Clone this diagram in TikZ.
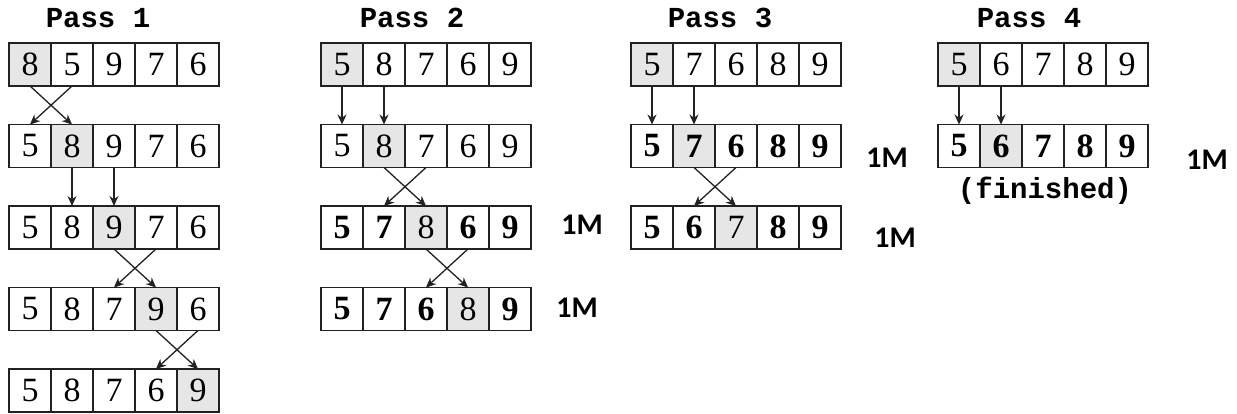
\documentclass[tikz,border=0pt]{standalone}
\usepackage{fontspec}
\setmainfont{Liberation Serif}
\newfontfamily\monofont{Liberation Mono}
\newfontfamily\calfont{Carlito}
\usetikzlibrary{arrows.meta}
\definecolor{shade}{HTML}{E6E6E6}
\definecolor{boxline}{HTML}{222222}
\tikzset{
  cell/.style={draw=boxline, line width=1.4pt, minimum width=42pt, minimum height=43pt,
    inner sep=0pt, outer sep=0pt, anchor=north west, font=\fontsize{34}{34}\selectfont},
  passtitle/.style={font=\monofont\bfseries\fontsize{29}{29}\selectfont},
  onem/.style={font=\calfont\bfseries\fontsize{30}{30}\selectfont},
  arr/.style={-{Stealth[length=10pt,width=9pt]}, line width=1.3pt, draw=boxline}
}
% #1 name, #2 left x, #3 top y (pixels down), #4 digits, #5 highlighted index
\newcommand\cellrow[5]{%
  \foreach \v [count=\i] in {#4} {%
    \pgfmathtruncatemacro\ishl{\i==#5}%
    \ifnum\ishl=1 \def\cf{shade}\else\def\cf{white}\fi
    \node[cell, fill=\cf] (#1-\i) at ({#2+(\i-1)*42}, {-#3}) {\v};
  }%
}
\newcommand\swaparr[4]{% from row #1 to row #2, cells #3 and #4
  \draw[arr] (#1-#3.south) -- (#2-#4.north);
  \draw[arr] (#1-#4.south) -- (#2-#3.north);
}
\newcommand\downarr[3]{% from row #1 to row #2, cell #3
  \draw[arr] (#1-#3.south) -- (#2-#3.north);
}
\begin{document}
\begin{tikzpicture}[x=1pt,y=1pt]
\useasboundingbox (0,0) rectangle (1237,-414);
% titles
\node[passtitle] (t1) at (98,-18) {Pass 1};
\node[passtitle] (t2) at (412,-18) {Pass 2};
\node[passtitle] (t3) at (720,-18) {Pass 3};
\node[passtitle] (t4) at (1029,-18) {Pass 4};
% Pass 1
\cellrow{aa}{9}{43}{8,5,9,7,6}{1}
\cellrow{ab}{9}{124.5}{5,8,9,7,6}{2}
\cellrow{ac}{9}{206}{5,8,9,7,6}{3}
\cellrow{ad}{9}{287.5}{5,8,7,9,6}{4}
\cellrow{ae}{9}{369}{5,8,7,6,9}{5}
\swaparr{aa}{ab}{1}{2}
\downarr{ab}{ac}{2}
\downarr{ab}{ac}{3}
\swaparr{ac}{ad}{3}{4}
\swaparr{ad}{ae}{4}{5}
% Pass 2
\cellrow{ba}{321}{43}{5,8,7,6,9}{1}
\cellrow{bb}{321}{124.5}{5,8,7,6,9}{2}
\cellrow{bc}{321}{206}{\textbf{5},\textbf{7},8,\textbf{6},\textbf{9}}{3}
\cellrow{bd}{321}{287.5}{\textbf{5},\textbf{7},\textbf{6},8,\textbf{9}}{4}
\downarr{ba}{bb}{1}
\downarr{ba}{bb}{2}
\swaparr{bb}{bc}{2}{3}
\swaparr{bc}{bd}{3}{4}
\node[onem] (m1) at (582,-225) {1M};
\node[onem] (m2) at (577,-308) {1M};
% Pass 3
\cellrow{ca}{631}{43}{5,7,6,8,9}{1}
\cellrow{cb}{631}{124.5}{\textbf{5},\textbf{7},\textbf{6},\textbf{8},\textbf{9}}{2}
\cellrow{cc}{631}{206}{\textbf{5},\textbf{6},7,\textbf{8},\textbf{9}}{3}
\downarr{ca}{cb}{1}
\downarr{ca}{cb}{2}
\swaparr{cb}{cc}{2}{3}
\node[onem] (m3) at (887,-158) {1M};
\node[onem] (m4) at (895,-238) {1M};
% Pass 4
\cellrow{da}{938}{43}{5,6,7,8,9}{1}
\cellrow{db}{938}{124.5}{\textbf{5},\textbf{6},\textbf{7},\textbf{8},\textbf{9}}{2}
\downarr{da}{db}{1}
\downarr{da}{db}{2}
\node[onem] (m5) at (1207,-160) {1M};
\node[passtitle] (fin) at (1045,-191) {(finished)};
\end{tikzpicture}
\end{document}
